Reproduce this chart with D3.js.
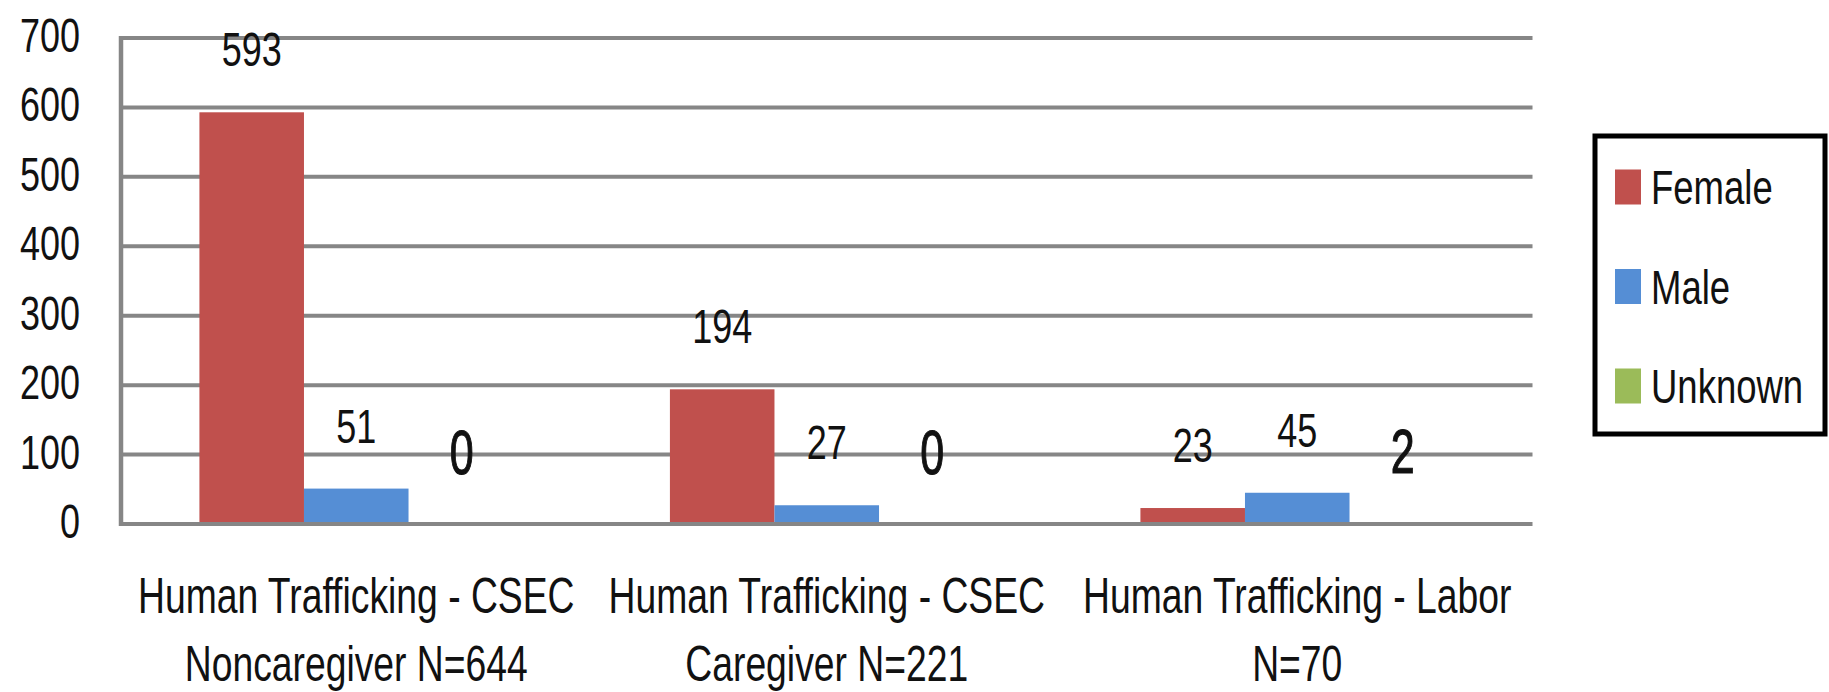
<!DOCTYPE html>
<html>
<head>
<meta charset="utf-8">
<script src="https://cdn.jsdelivr.net/npm/d3@7"></script>
<style>
  html, body { margin: 0; padding: 0; background: #fff; }
  svg { display: block; }
  text { font-family: "Liberation Sans", Arial, sans-serif; fill: #111; }
</style>
</head>
<body>
<svg id="chart" width="1829" height="692"></svg>
<script>
// ---- data ----
const categories = [
  ["Human Trafficking - CSEC", "Noncaregiver N=644"],
  ["Human Trafficking - CSEC", "Caregiver N=221"],
  ["Human Trafficking - Labor", "N=70"]
];
const seriesNames = ["Female", "Male", "Unknown"];
const female = [593, 194, 23];
const male = [51, 27, 45];
const unknown = [0, 0, 2];
const yTicks = [0, 100, 200, 300, 400, 500, 600, 700];
const colors = ["#C0504D", "#558ED5", "#9BBB59"];

// ---- layout ----
const svg = d3.select("#chart");
const plot = { left: 121, right: 1532.5, top: 38, bottom: 524 };
const SY = 1.35; // vertical stretch of the original text

const catIdx = categories.map((d, i) => i);
const x0 = d3.scaleBand().domain(catIdx).range([plot.left, plot.right]).padding(0);
const x1 = d3.scaleBand().domain(seriesNames).range([0, x0.bandwidth()])
  .paddingInner(0).paddingOuter(0.75);
const y = d3.scaleLinear().domain([0, 700]).range([plot.bottom, plot.top]);
const color = d3.scaleOrdinal().domain(seriesNames).range(colors);

const values = [female, male, unknown];
const table = [];
seriesNames.forEach((s, si) => {
  values[si].forEach((v, ci) => table.push({ series: s, cat: ci, value: v }));
});

function stretchedText(g, x, yy, str, opts = {}) {
  return g.append("text")
    .attr("transform", `translate(${x},${yy}) scale(1,${opts.sy || SY})`)
    .attr("text-anchor", opts.anchor || "middle")
    .style("font-size", (opts.size || 37) + "px")
    .style("font-weight", opts.weight || "normal")
    .text(str);
}

// gridlines
const grid = svg.append("g");
grid.selectAll("line.grid").data(yTicks).enter().append("line")
  .attr("x1", plot.left).attr("x2", plot.right)
  .attr("y1", d => y(d)).attr("y2", d => y(d))
  .attr("stroke", "#868686").attr("stroke-width", 4);
// left axis line
grid.append("line")
  .attr("x1", plot.left).attr("x2", plot.left)
  .attr("y1", y(700) - 2).attr("y2", y(0) + 2)
  .attr("stroke", "#868686").attr("stroke-width", 4.5);

// y tick labels
const yl = svg.append("g");
yTicks.forEach(t => stretchedText(yl, 80, y(t) + 14, String(t), { anchor: "end", size: 36 }));

// bars
svg.append("g").selectAll("rect").data(table).enter().append("rect")
  .attr("x", d => x0(d.cat) + x1(d.series))
  .attr("width", x1.bandwidth())
  .attr("y", d => y(d.value))
  .attr("height", d => y(0) - y(d.value) - 2)
  .attr("fill", d => color(d.series));

// data labels
const lbl = svg.append("g");
table.forEach(d => {
  const cx = x0(d.cat) + x1(d.series) + x1.bandwidth() / 2;
  if (d.series === "Unknown") {
    stretchedText(lbl, cx + 1, y(d.value) - 50, String(d.value), { size: 43, sy: 1.48 })
      .style("stroke", "#111").style("stroke-width", 0.8);
  } else {
    stretchedText(lbl, cx, y(d.value) - 46, String(d.value), { size: 36 });
  }
});

// category labels
const cl = svg.append("g");
categories.forEach((lines, i) => {
  const cx = x0(i) + x0.bandwidth() / 2;
  stretchedText(cl, cx, 613, lines[0], { size: 37.3 });
  stretchedText(cl, cx, 681, lines[1], { size: 37.3 });
});

// legend
const lg = svg.append("g");
lg.append("rect").attr("x", 1595).attr("y", 136).attr("width", 1825 - 1595).attr("height", 434 - 136)
  .attr("fill", "#fff").attr("stroke", "#000").attr("stroke-width", 5);
const legY = d3.scalePoint().domain(seriesNames).range([187, 386]);
seriesNames.forEach(s => {
  lg.append("rect").attr("x", 1615).attr("y", legY(s) - 17.5).attr("width", 26).attr("height", 35)
    .attr("fill", color(s));
  stretchedText(lg, 1651, legY(s) + 17, s, { anchor: "start", size: 36.5, sy: 1.3 });
});
</script>
</body>
</html>
